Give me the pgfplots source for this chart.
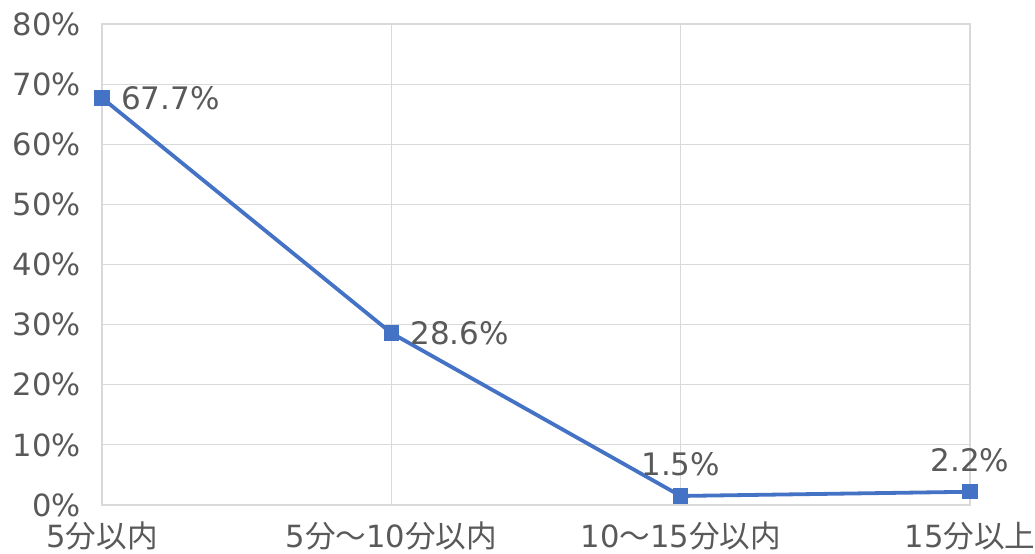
\documentclass[border=0pt]{standalone}
\usepackage{pgfplots}
\pgfplotsset{compat=1.18}
\usepackage{fontspec}
\setmainfont{DejaVu Sans}
\newfontfamily\cjk{Noto Sans CJK JP}
\definecolor{linec}{HTML}{4472C4}
\definecolor{gridc}{HTML}{D9D9D9}
\definecolor{txt}{HTML}{595959}
\begin{document}
\begin{tikzpicture}
\begin{axis}[
  name=ax,
  scale only axis,
  width=434pt, height=240.5pt,
  xmin=0, xmax=3, ymin=0, ymax=80,
  xtick={0,1,2,3},
  xticklabels={5{\cjk 分以内},5{\cjk 分～}10{\cjk 分以内},10{\cjk ～}15{\cjk 分以内},15{\cjk 分以上}},
  ytick={0,10,...,80},
  yticklabel={\pgfmathprintnumber{\tick}\%},
  /pgf/number format/assume math mode=true,
  grid=major,
  major grid style={gridc, line width=0.6pt},
  axis line style={gridc, line width=0.6pt},
  major tick length=0pt,
  tick label style={font=\fontsize{15.3}{16}\selectfont, text=txt},
  xticklabel style={yshift=-5pt},
  yticklabel style={xshift=-7pt},
  clip=false,
]
\addplot[linec, line width=1.9pt, mark=square*, mark size=3.6pt, mark options={fill=linec, draw=linec, line width=0pt}]
  coordinates {(0,67.7) (1,28.6) (2,1.5) (3,2.2)};
\addplot[draw=none, point meta=explicit symbolic,
  nodes near coords, nodes near coords align={anchor=west},
  every node near coord/.append style={font=\fontsize{15.5}{16}\selectfont, text=txt, xshift=6pt}]
  coordinates {(0,67.7) [67.7\%] (1,28.6) [28.6\%]};
\addplot[draw=none, point meta=explicit symbolic,
  nodes near coords, nodes near coords align={anchor=south},
  every node near coord/.append style={font=\fontsize{15.5}{16}\selectfont, text=txt, yshift=6.5pt}]
  coordinates {(2,1.5) [1.5\%] (3,2.2) [2.2\%]};
\end{axis}
\pgfresetboundingbox
\path ([xshift=-51pt,yshift=-24.5pt]ax.south west) rectangle ([xshift=32.5pt,yshift=12pt]ax.north east);
\end{tikzpicture}
\end{document}
